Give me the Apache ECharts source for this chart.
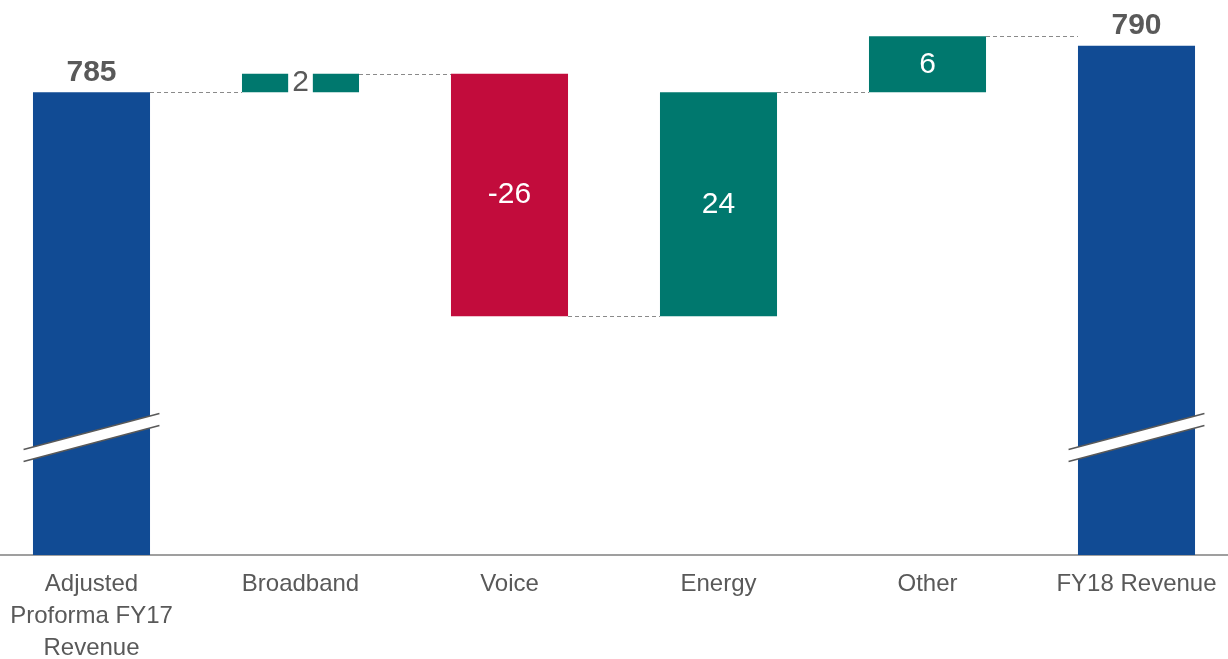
<!DOCTYPE html>
<html>
<head>
<meta charset="utf-8">
<title>Revenue bridge FY17 to FY18</title>
<script src="https://cdn.jsdelivr.net/npm/echarts@6/dist/echarts.min.js"></script>
<style>
  html, body { margin: 0; padding: 0; background: #ffffff; }
  #chart { width: 1228px; height: 659px; }
</style>
</head>
<body>
<div id="chart"></div>
<script>
// Revenue bridge: opening total, movements by product line, closing total
const categories = ['Adjusted\nProforma FY17\nRevenue', 'Broadband', 'Voice', 'Energy', 'Other', 'FY18 Revenue'];
const openingTotal = 785;
const changes = [2, -26, 24, 6];
const closingTotal = 790;

// axis range used for the broken value axis
const axisMin = 735.4;
const axisMax = 792;
const breakLevel = 748;

const COLOR_TOTAL = '#114B94';
const COLOR_UP = '#00786E';
const COLOR_DOWN = '#C20C3C';
const TEXT = '#595959';
const FONT = '"Liberation Sans", Arial, sans-serif';
const BAR_RATIO = 0.56;

// running levels before/after each movement
const levels = [openingTotal];
changes.forEach(function (c) { levels.push(levels[levels.length - 1] + c); });

const totalData = categories.map(function (_, i) {
  if (i === 0) return openingTotal;
  if (i === categories.length - 1) return closingTotal;
  return '-';
});
const baseData = categories.map(function (_, i) {
  if (i === 0 || i === categories.length - 1) return '-';
  return Math.min(levels[i - 1], levels[i]);
});
const deltaData = categories.map(function (_, i) {
  if (i === 0 || i === categories.length - 1) return '-';
  const c = changes[i - 1];
  const item = {
    value: Math.abs(c),
    change: c,
    itemStyle: { color: c >= 0 ? COLOR_UP : COLOR_DOWN }
  };
  // a movement too thin for a white label gets a grey label on a white patch
  if (Math.abs(c) <= 3) {
    item.label = { color: TEXT, backgroundColor: '#ffffff', padding: [0, 4] };
  }
  return item;
});
// dashed connectors: from bar i to bar i+1 at the running level
const connectorData = levels.map(function (lv, i) { return [i, lv]; });
const breakData = [[0, breakLevel], [categories.length - 1, breakLevel]];

const chart = echarts.init(document.getElementById('chart'));
chart.setOption({
  animation: false,
  backgroundColor: '#ffffff',
  grid: {
    left: -13, right: -13, top: 27, bottom: 104,
    containLabel: false,
    outerBoundsMode: 'none'
  },
  xAxis: {
    type: 'category',
    data: categories,
    axisLine: { lineStyle: { color: '#7f7f7f', width: 1.5 } },
    axisTick: { show: false },
    axisLabel: {
      interval: 0,
      color: TEXT,
      fontFamily: FONT,
      fontSize: 24,
      lineHeight: 32,
      margin: 13
    }
  },
  yAxis: {
    type: 'value',
    min: axisMin,
    max: axisMax,
    show: false,
    splitLine: { show: false }
  },
  series: [
    {
      name: 'Total',
      type: 'bar',
      barWidth: (BAR_RATIO * 100) + '%',
      barGap: '-100%',
      data: totalData,
      itemStyle: { color: COLOR_TOTAL },
      label: {
        show: true,
        position: 'top',
        distance: 5,
        color: TEXT,
        fontFamily: FONT,
        fontWeight: 'bold',
        fontSize: 30
      },
      z: 2
    },
    {
      name: 'Base',
      type: 'bar',
      stack: 'bridge',
      barWidth: (BAR_RATIO * 100) + '%',
      barGap: '-100%',
      data: baseData,
      itemStyle: { color: 'rgba(0,0,0,0)' },
      emphasis: { disabled: true },
      silent: true,
      z: 1
    },
    {
      name: 'Change',
      type: 'bar',
      stack: 'bridge',
      barWidth: (BAR_RATIO * 100) + '%',
      barGap: '-100%',
      data: deltaData,
      label: {
        show: true,
        position: 'inside',
        fontFamily: FONT,
        fontSize: 30,
        formatter: function (p) { return String(p.data.change); },
        color: '#ffffff'
      },
      z: 2
    },
    {
      name: 'Connectors',
      type: 'custom',
      data: connectorData,
      silent: true,
      z: 1,
      renderItem: function (params, api) {
        const i = api.value(0);
        const lv = api.value(1);
        const p0 = api.coord([i, lv]);
        const p1 = api.coord([i + 1, lv]);
        const half = api.size([1, 0])[0] * BAR_RATIO / 2;
        const y = Math.round(p0[1]) + 0.5;
        return {
          type: 'line',
          shape: { x1: p0[0] + half, y1: y, x2: p1[0] - half, y2: y },
          style: { stroke: '#8a8a8a', lineWidth: 1, lineDash: [4, 3] }
        };
      }
    },
    {
      name: 'Axis break',
      type: 'custom',
      data: breakData,
      silent: true,
      z: 5,
      renderItem: function (params, api) {
        const c = api.coord([api.value(0), api.value(1)]);
        const half = api.size([1, 0])[0] * 0.325;
        const rise = half * 0.265;
        const g = 6;
        const ul = [c[0] - half, c[1] + rise - g];
        const ur = [c[0] + half, c[1] - rise - g];
        const lr = [c[0] + half, c[1] - rise + g];
        const ll = [c[0] - half, c[1] + rise + g];
        return {
          type: 'group',
          children: [
            { type: 'polygon', shape: { points: [ul, ur, lr, ll] }, style: { fill: '#ffffff', stroke: null } },
            { type: 'line', shape: { x1: ul[0], y1: ul[1], x2: ur[0], y2: ur[1] }, style: { stroke: '#595959', lineWidth: 1.6 } },
            { type: 'line', shape: { x1: ll[0], y1: ll[1], x2: lr[0], y2: lr[1] }, style: { stroke: '#595959', lineWidth: 1.6 } }
          ]
        };
      }
    }
  ]
});
</script>
</body>
</html>
